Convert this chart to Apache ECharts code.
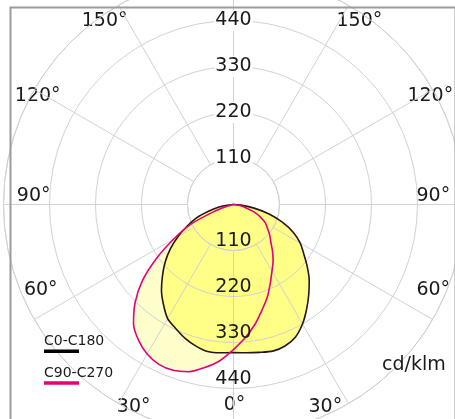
<!DOCTYPE html>
<html><head><meta charset="utf-8">
<script src="https://cdn.jsdelivr.net/npm/echarts@6/dist/echarts.min.js"></script>
<style>html,body{margin:0;padding:0;background:#fff}#c{width:455px;height:419px}</style>
</head><body><div id="c"></div>
<script>
// gamma angles (deg from nadir) and intensities (cd/klm)
const gammaDeg = [0,5,10,15,20,25,30,35,40,45,50,55,60,65,70,75,80,85,90];
const c0   = [354,356,359,363,360,350,330,305,280,256,230,205,184,158,125,88,50,18,0];
const c180 = [354,356,357,350,340,327,315,292,268,240,213,184,153,122,95,62,35,12,0];
const c90  = [347,320,292,262,236,208,184,165,145,126,113,99,88,71,52,30,15,5,0];
const c270 = [347,375,396,414,422,422,413,396,372,333,285,225,165,115,50,15,5,0,0];
const radiusTicks = [110,220,330,440];
const legendNames = ['C0-C180','C90-C270'];
const unitLabel = 'cd/klm';

const FONT = 'DejaVu Sans';
const GRID = '#d2d2d2';
const TXT = '#1a1a1a';
const YELLOW = '#ffff88';
const PALE = '#ffffcc';
const MAGENTA = '#e5007e';

// label nudges (styling only)
const anglePad = {
  30:[0,0,44,28], 60:[0,0,24,44], 90:[0,0,17,33], 120:[1,0,0,53], 150:[63,0,0,0],
  180:[41,0,0,2], 210:[63,8,0,0], 240:[1,46,0,0], 270:[0,33,17,0], 300:[0,43,24,0], 330:[0,31,44,0]
};
const angleRich = {};
Object.keys(anglePad).forEach(k => {
  angleRich['s' + k] = {padding: anglePad[k], fontSize: 19, fontFamily: FONT, color: TXT};
});

function curve(right, left) {
  const pts = [];
  gammaDeg.forEach((g, i) => pts.push([right[i], g]));
  for (let i = gammaDeg.length - 1; i >= 0; i--) pts.push([left[i], 360 - gammaDeg[i]]);
  return pts;
}
const ptsC0 = curve(c0, c180);
const ptsC90 = curve(c90, c270);

const chart = echarts.init(document.getElementById('c'), null, {renderer: 'canvas'});
const center = [233.5, 204.5];
chart.setOption({
  animation: false,
  backgroundColor: '#fff',
  title: {text: unitLabel, left: 382, top: 356, padding: 0,
    textStyle: {fontSize: 19, fontWeight: 'normal', fontFamily: FONT, color: TXT}},
  legend: {
    data: legendNames, orient: 'vertical', left: 39, top: 334.6, padding: 0, itemGap: 9,
    icon: 'none', itemWidth: 0, itemHeight: 0, selectedMode: false,
    formatter: n => n === legendNames[0] ? '{t|' + n + '}\n{k|}' : '{t|' + n + '}\n{m|}',
    textStyle: {
      rich: {
        t: {fontSize: 14, fontFamily: FONT, color: TXT, lineHeight: 16},
        k: {width: 35, height: 3.5, lineHeight: 3.5, backgroundColor: '#000'},
        m: {width: 35, height: 3.5, lineHeight: 3.5, backgroundColor: MAGENTA}
      }
    }
  },
  polar: [
    {center: center, radius: [0, 230]},
    {center: center, radius: [46, 230]}
  ],
  angleAxis: [
    {polarIndex: 0, type: 'value', min: 0, max: 360, startAngle: 270, clockwise: false, show: false},
    {polarIndex: 1, type: 'value', min: 0, max: 360, interval: 30, startAngle: 90, clockwise: true, z: 2,
      axisLine: {show: true, lineStyle: {color: GRID, width: 1}},
      axisTick: {show: false},
      splitLine: {show: true, lineStyle: {color: GRID, width: 1}},
      axisLabel: {margin: -80, fontSize: 19, fontFamily: FONT, color: TXT, rich: angleRich,
        formatter: v => { const g = Math.abs(180 - v); return g === 180 ? '' : '{s' + v + '|' + g + '°}'; }}
    }
  ],
  radiusAxis: [
    {polarIndex: 0, type: 'value', min: 0, max: 550, interval: 110, z: 4,
      axisLine: {show: false}, axisTick: {show: false}, splitLine: {show: false},
      axisLabel: {margin: 0, align: 'center', verticalAlign: 'bottom', fontSize: 19, fontFamily: FONT, color: TXT,
        formatter: v => radiusTicks.includes(v) ? String(v) : ''}
    },
    {polarIndex: 1, type: 'value', min: 110, max: 550, interval: 110, z: 2,
      axisLine: {show: false}, axisTick: {show: false},
      splitLine: {show: true, lineStyle: {color: GRID, width: 1}},
      axisLabel: {margin: 0, align: 'center', verticalAlign: 'middle', fontSize: 19, fontFamily: FONT, color: TXT,
        backgroundColor: '#fff', padding: [2, 1, 0, 1],
        formatter: v => radiusTicks.includes(v) ? String(v) : ''}
    }
  ],
  series: [
    {name: legendNames[1], type: 'line', coordinateSystem: 'polar', polarIndex: 0, data: ptsC90,
      showSymbol: false, smooth: 0.25, z: 1, silent: true,
      lineStyle: {width: 0, opacity: 0}, areaStyle: {color: PALE, opacity: 1}},
    {name: legendNames[0], type: 'line', coordinateSystem: 'polar', polarIndex: 0, data: ptsC0,
      showSymbol: false, smooth: 0.25, z: 1, silent: true,
      lineStyle: {width: 0, opacity: 0}, areaStyle: {color: YELLOW, opacity: 1}},
    {name: legendNames[0], type: 'line', coordinateSystem: 'polar', polarIndex: 0, data: ptsC0,
      showSymbol: false, smooth: 0.25, z: 3, silent: true,
      lineStyle: {width: 1.6, color: '#2a1414'}},
    {name: legendNames[1], type: 'line', coordinateSystem: 'polar', polarIndex: 0, data: ptsC90,
      showSymbol: false, smooth: 0.25, z: 3, silent: true,
      lineStyle: {width: 1.6, color: MAGENTA}}
  ],
  graphic: [
    {type: 'rect', left: 8, top: 5, z: 10, silent: true,
      shape: {width: 445, height: 420}, style: {fill: 'none', stroke: '#9c9c9c', lineWidth: 2}}
  ]
});
</script></body></html>
